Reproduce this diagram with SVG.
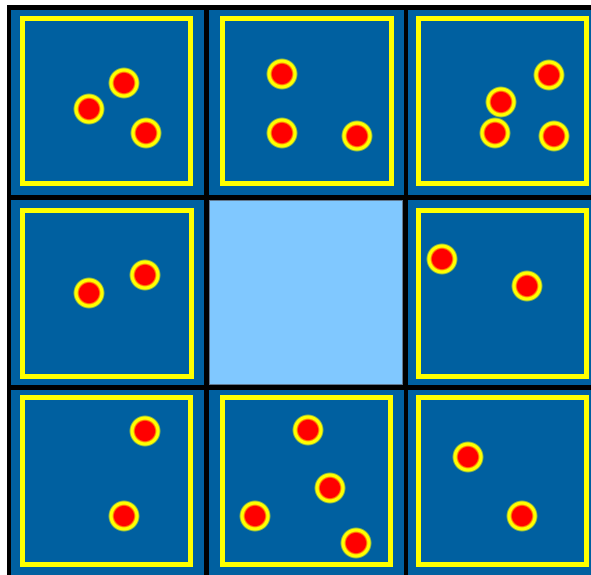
<svg xmlns="http://www.w3.org/2000/svg" width="591" height="575" viewBox="0 0 591 575">
<defs>
<radialGradient id="dot" cx="0.5" cy="0.5" r="0.5">
<stop offset="0" stop-color="#ff0000"/>
<stop offset="0.6" stop-color="#ff0000"/>
<stop offset="0.74" stop-color="#ffff00"/>
<stop offset="0.88" stop-color="#ffff00"/>
<stop offset="1" stop-color="#ffff00" stop-opacity="0"/>
</radialGradient>
</defs>
<style>
.cell{fill:#0060a0}
.frame{fill:none;stroke:#ffff00;stroke-width:5}
.dot{fill:url(#dot)}
.empty{fill:#80c8ff;stroke:#607890;stroke-width:1}
</style>
<rect x="0" y="0" width="591" height="575" fill="#ffffff"/>
<rect x="7" y="5" width="584" height="570" fill="#000000"/>
<g id="cell-0-0">
<rect class="cell" x="11" y="10" width="193" height="185"/>
<rect class="frame" x="22.5" y="18.5" width="168" height="165"/>
<circle class="dot" cx="89" cy="109" r="16"/>
<circle class="dot" cx="124" cy="83" r="16"/>
<circle class="dot" cx="146" cy="133" r="16"/>
</g>
<g id="cell-0-1">
<rect class="cell" x="209" y="10" width="195" height="185"/>
<rect class="frame" x="222.5" y="18.5" width="169" height="165"/>
<circle class="dot" cx="282" cy="74" r="16"/>
<circle class="dot" cx="282" cy="133" r="16"/>
<circle class="dot" cx="357" cy="136" r="16"/>
</g>
<g id="cell-0-2">
<rect class="cell" x="408" y="10" width="190" height="185"/>
<rect class="frame" x="418.5" y="18.5" width="168" height="165"/>
<circle class="dot" cx="549" cy="75" r="16"/>
<circle class="dot" cx="501" cy="102" r="16"/>
<circle class="dot" cx="495" cy="133" r="16"/>
<circle class="dot" cx="554" cy="136" r="16"/>
</g>
<g id="cell-1-0">
<rect class="cell" x="11" y="200" width="193" height="185"/>
<rect class="frame" x="22.5" y="210.5" width="169" height="166"/>
<circle class="dot" cx="89" cy="293" r="16"/>
<circle class="dot" cx="145" cy="275" r="16"/>
</g>
<g id="cell-1-1">
<rect class="empty" x="209.5" y="200.5" width="193" height="184"/>
</g>
<g id="cell-1-2">
<rect class="cell" x="408" y="200" width="190" height="185"/>
<rect class="frame" x="418.5" y="210.5" width="168" height="166"/>
<circle class="dot" cx="442" cy="259" r="16"/>
<circle class="dot" cx="527" cy="286" r="16"/>
</g>
<g id="cell-2-0">
<rect class="cell" x="11" y="390" width="193" height="190"/>
<rect class="frame" x="22.5" y="397.5" width="168" height="167"/>
<circle class="dot" cx="145" cy="431" r="16"/>
<circle class="dot" cx="124" cy="516" r="16"/>
</g>
<g id="cell-2-1">
<rect class="cell" x="209" y="390" width="195" height="190"/>
<rect class="frame" x="222.5" y="397.5" width="168" height="167"/>
<circle class="dot" cx="308" cy="430" r="16"/>
<circle class="dot" cx="330" cy="488" r="16"/>
<circle class="dot" cx="255" cy="516" r="16"/>
<circle class="dot" cx="356" cy="543" r="16"/>
</g>
<g id="cell-2-2">
<rect class="cell" x="408" y="390" width="190" height="190"/>
<rect class="frame" x="418.5" y="397.5" width="168" height="167"/>
<circle class="dot" cx="468" cy="457" r="16"/>
<circle class="dot" cx="522" cy="516" r="16"/>
</g>
<g id="connectors"/>
</svg>
